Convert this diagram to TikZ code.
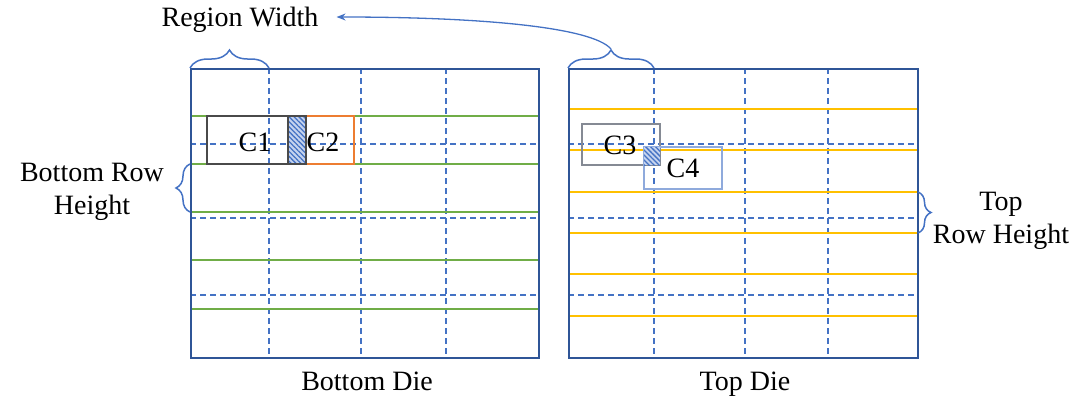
\documentclass[tikz,border=0pt]{standalone}
\usepackage{fontspec}
\setmainfont{Liberation Serif}
\usetikzlibrary{decorations.pathreplacing,patterns.meta,arrows.meta}
\definecolor{dieblue}{HTML}{2F5597}
\definecolor{gridblue}{HTML}{4472C4}
\definecolor{rowgreen}{HTML}{70AD47}
\definecolor{rowgold}{HTML}{FFC000}
\definecolor{cellorange}{HTML}{ED7D31}
\definecolor{cellgray}{HTML}{858A94}
\definecolor{cellblue}{HTML}{8FAADC}
\definecolor{celldark}{HTML}{4A4A4A}
\definecolor{hatchfill}{HTML}{C5D3EE}
\begin{document}
\begin{tikzpicture}[x=1pt,y=-1pt,
  lbl/.style={font=\fontsize{28}{32.5}\selectfont, inner sep=0pt, text=black, anchor=base},
  dieframe/.style={draw=dieblue, line width=2pt, inner sep=0pt, anchor=north west},
  gridline/.style={draw=gridblue, line width=1.5pt, dash pattern=on 6pt off 4pt},
  greenrow/.style={draw=rowgreen, line width=2.4pt},
  goldrow/.style={draw=rowgold, line width=2.4pt},
  cellbox/.style={line width=1.8pt},
  overlapfill/.style={fill=hatchfill},
  overlaphatch/.style={pattern={Lines[angle=-45,distance=3.5pt,line width=1.3pt]}, pattern color=gridblue},
  bracemark/.style={draw=gridblue, line width=1.5pt, decorate},
  linkarrow/.style={draw=gridblue, line width=1.3pt, -{Stealth[length=9pt,width=7pt]}},
]
\useasboundingbox (0,0) rectangle (1071,397);

% ---------- bottom die ----------
% placement grid (dashed)
\foreach \gx in {269,361,446} \draw[gridline] (\gx,68) -- (\gx,359);
\foreach \gy in {144,218,295} \draw[gridline] (190,\gy) -- (538,\gy);
% rows
\foreach \ry in {116,164,212,260,309} \draw[greenrow] (190,\ry) -- (538,\ry);
% cells C1 / C2 and their overlap
\draw[cellbox, draw=cellorange] (288,116) rectangle (354,164);
\draw[cellbox, draw=celldark] (207,116) rectangle (306,164);
\fill[overlapfill] (288,116) rectangle (306,164);
\fill[overlaphatch] (288,116) rectangle (306,164);
\draw[cellbox, draw=celldark] (288,116) rectangle (306,164);
\node[lbl] (c1) at (255,151) {C1};
\node[lbl] (c2) at (323,151) {C2};
\node[dieframe, minimum width=348pt, minimum height=289pt] (bot) at (190,68) {};

% ---------- top die ----------
\foreach \gx in {654,745,828} \draw[gridline] (\gx,68) -- (\gx,359);
\foreach \gy in {144,218,295} \draw[gridline] (568,\gy) -- (917,\gy);
\foreach \ry in {109,150,192,233,274,316} \draw[goldrow] (568,\ry) -- (917,\ry);
% cells C3 / C4 and their overlap
\draw[cellbox, draw=cellgray] (582,124) rectangle (660,165);
\draw[cellbox, draw=cellblue] (644,147) rectangle (722,189);
\fill[overlapfill] (644,147) rectangle (660,165);
\fill[overlaphatch] (644,147) rectangle (660,165);
\node[lbl] (c3) at (620,154) {C3};
\node[lbl] (c4) at (683,177) {C4};
\node[dieframe, minimum width=349pt, minimum height=289pt] (top) at (568,68) {};

% ---------- labels (two-line labels sit on their last baseline) ----------
\node[lbl] (rw) at (240,26) {Region Width};
\node[lbl, align=center] (brh) at (92,214) {Bottom Row\\Height};
\node[lbl, align=center] (trh) at (1001,243) {Top\\Row Height};
\node[lbl] (bdl) at (367,390) {Bottom Die};
\node[lbl] (tdl) at (745,390) {Top Die};

% ---------- braces ----------
\draw[bracemark, decoration={brace, amplitude=18pt}] (bot.north west) -- ([xshift=79pt]bot.north west);
\draw[bracemark, decoration={brace, amplitude=18pt}] (top.north west) -- ([xshift=86pt]top.north west)
  coordinate[pos=0.5, yshift=19pt] (rwtip);
\draw[bracemark, decoration={brace, amplitude=14pt}] (190,212) -- (190,164);
\draw[bracemark, decoration={brace, amplitude=13pt}] (918,192) -- (918,233);

% region width call-out
\draw[linkarrow] (rwtip) .. controls (592,27) and (480,17) .. ([xshift=18pt,yshift=9pt]rw.base east);
\end{tikzpicture}
\end{document}
